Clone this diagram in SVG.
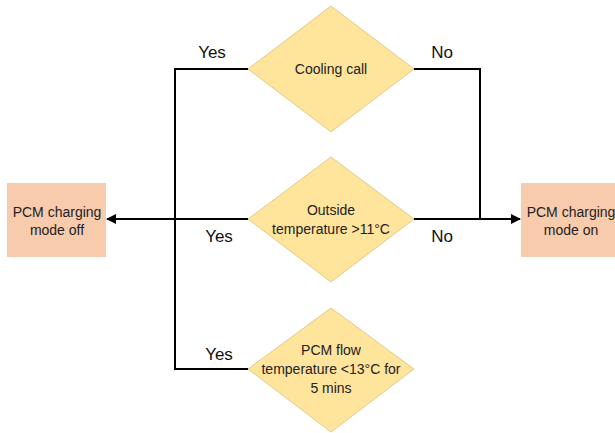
<svg xmlns="http://www.w3.org/2000/svg" width="615" height="433" viewBox="0 0 615 433">
<style>
.dia{fill:#FFE49C;stroke:#D9C07A;stroke-width:0.8}
.box{fill:#F8CBAD;stroke:none}
.t{font-family:"Liberation Sans",Arial,sans-serif;font-size:14px;fill:#222;text-anchor:middle}
.lbl{font-family:"Liberation Sans",Arial,sans-serif;font-size:17px;fill:#111;text-anchor:middle}
.ln{fill:none;stroke:#000;stroke-width:2}
</style>
<defs>
<marker id="ah" viewBox="0 0 10 10" refX="9" refY="5" markerWidth="5" markerHeight="5" orient="auto" markerUnits="strokeWidth">
<path d="M0,0 L10,5 L0,10 Z" fill="#000"/>
</marker>
</defs>
<rect width="615" height="433" fill="#fff"/>
<g id="connectors">
<polyline class="ln" points="248,69 175,69 175,369 248,369"/>
<polyline class="ln" points="414,69 480,69 480,219"/>
<line class="ln" x1="248" y1="219" x2="107" y2="219" marker-end="url(#ah)"/>
<line class="ln" x1="414" y1="219" x2="520" y2="219" marker-end="url(#ah)"/>
<text class="lbl" x="212" y="58">Yes</text>
<text class="lbl" x="442" y="58">No</text>
<text class="lbl" x="219" y="242">Yes</text>
<text class="lbl" x="442" y="242">No</text>
<text class="lbl" x="219" y="360">Yes</text>
</g>
<g id="cooling">
<polygon class="dia" points="331,6 414,69 331,132 248,69"/>
<text class="t" x="331" y="74">Cooling call</text>
</g>
<g id="outside">
<polygon class="dia" points="331,157 414,219 331,282 248,219"/>
<text class="t" x="331" y="215">Outside</text>
<text class="t" x="331" y="234">temperature &gt;11°C</text>
</g>
<g id="pcmflow">
<polygon class="dia" points="331,308 414,369 331,432 248,369"/>
<text class="t" x="331" y="355">PCM flow</text>
<text class="t" x="331" y="374">temperature &lt;13°C for</text>
<text class="t" x="331" y="393">5 mins</text>
</g>
<g id="off">
<rect class="box" x="7" y="183" width="99" height="74"/>
<text class="t" x="57" y="217">PCM charging</text>
<text class="t" x="57" y="235">mode off</text>
</g>
<g id="on">
<rect class="box" x="521" y="183" width="94" height="74"/>
<text class="t" x="571" y="217">PCM charging</text>
<text class="t" x="571" y="235">mode on</text>
</g>
</svg>
